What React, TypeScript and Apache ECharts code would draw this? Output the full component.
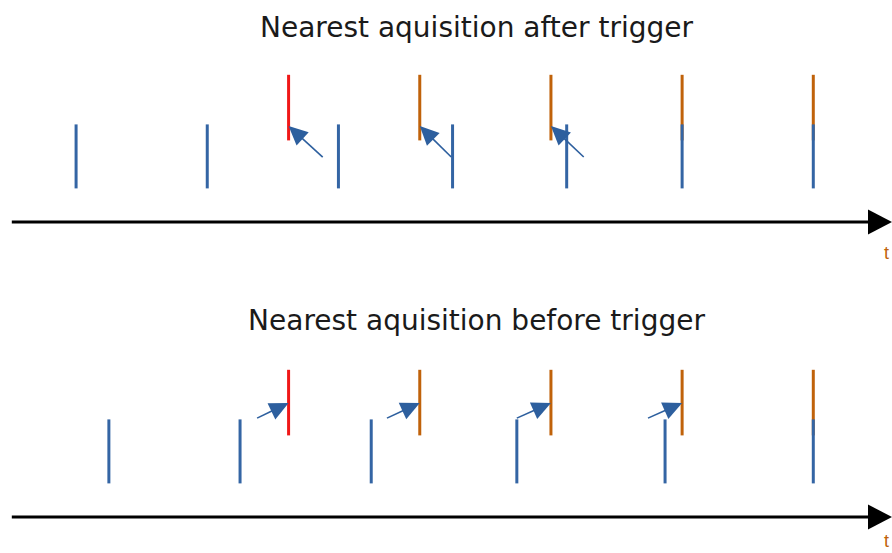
import React, { useEffect, useRef } from 'react';
import * as echarts from 'echarts';

// ---- data (time in trigger periods, height in arbitrary units above the time axis) ----
const TITLES = ['Nearest aquisition after trigger', 'Nearest aquisition before trigger'];
const TIME_AXIS_LABEL = 't';
const TRIGGER_TIMES = [0, 1, 2, 3, 4];
const AFTER_ACQUISITIONS = [-1.62, -0.62, 0.38, 1.25, 2.12, 3.0, 4.0];
const BEFORE_ACQUISITIONS = [-1.37, -0.37, 0.63, 1.74, 2.87, 4.0];
const AFTER_ARROW_TAILS = [0.26, 1.24, 2.25];
const AFTER_ARROW_TARGETS = [0, 1, 2];
const BEFORE_ARROW_TAILS = [-0.24, 0.75, 1.74, 2.74];
const BEFORE_ARROW_TARGETS = [0, 1, 2, 3];
const ACQ_SPAN = [1.05, 3.05];
const TRIGGER_SPAN = [2.55, 4.6];
const AFTER_ARROW_HEIGHTS = [2.03, 3.0];
const BEFORE_ARROW_HEIGHTS = [3.09, 3.56];
const TIME_RANGE = [-2.11, 4.6];

const BLUE = '#3465a4';
const ARROW_BLUE = '#2d5f9e';
const RED = '#f01818';
const ORANGE = '#c0620a';

function vertical(color: (i: number) => string) {
  return (params: any, api: any) => {
    const x = api.value(0);
    const p1 = api.coord([x, api.value(1)]);
    const p2 = api.coord([x, api.value(2)]);
    return {
      type: 'line',
      shape: { x1: p1[0], y1: p1[1], x2: p2[0], y2: p2[1] },
      style: { stroke: color(params.dataIndex), lineWidth: 3 },
    };
  };
}

function arrow(headLen: number, halfW: number, shaftW: number, color: string) {
  return (params: any, api: any) => {
    const p1 = api.coord([api.value(0), api.value(1)]);
    const p2 = api.coord([api.value(2), api.value(3)]);
    const dx = p2[0] - p1[0];
    const dy = p2[1] - p1[1];
    const len = Math.hypot(dx, dy) || 1;
    const ux = dx / len;
    const uy = dy / len;
    const bx = p2[0] - ux * headLen;
    const by = p2[1] - uy * headLen;
    return {
      type: 'group',
      children: [
        {
          type: 'line',
          shape: { x1: p1[0], y1: p1[1], x2: bx + ux, y2: by + uy },
          style: { stroke: color, lineWidth: shaftW },
        },
        {
          type: 'polygon',
          shape: {
            points: [
              [p2[0], p2[1]],
              [bx - uy * halfW, by + ux * halfW],
              [bx + uy * halfW, by - ux * halfW],
            ],
          },
          style: { fill: color },
        },
      ],
    };
  };
}

function panelSeries(k: number, acquisitions: number[], tails: number[], targets: number[], heights: number[]) {
  const common = { type: 'custom', xAxisIndex: k, yAxisIndex: k, silent: true };
  return [
    {
      ...common,
      name: 'trigger',
      data: TRIGGER_TIMES.map((t) => [t, TRIGGER_SPAN[0], TRIGGER_SPAN[1]]),
      renderItem: vertical((i) => (i === 0 ? RED : ORANGE)),
    },
    {
      ...common,
      name: 'acquisition',
      data: acquisitions.map((t) => [t, ACQ_SPAN[0], ACQ_SPAN[1]]),
      renderItem: vertical(() => BLUE),
    },
    {
      ...common,
      name: 'nearest',
      data: tails.map((t, i) => [t, heights[0], TRIGGER_TIMES[targets[i]], heights[1]]),
      renderItem: arrow(19, 9, 1.6, ARROW_BLUE),
    },
    {
      ...common,
      name: 'time axis',
      data: [[TIME_RANGE[0], 0, TIME_RANGE[1], 0]],
      renderItem: arrow(24, 12.5, 3, '#000000'),
    },
  ];
}

export default function App() {
  const ref = useRef<HTMLDivElement>(null);
  useEffect(() => {
    if (!ref.current) return;
    const chart = echarts.init(ref.current, undefined, { renderer: 'svg' });
    const grids = [
      { left: 0, right: 0, top: 62, height: 160 },
      { left: 0, right: 0, top: 357, height: 160 },
    ];
    const xAxis = [0, 1].map((k) => ({
      type: 'value',
      gridIndex: k,
      min: -2.2,
      max: 4.6,
      show: false,
    }));
    const yAxis = [0, 1].map((k) => ({
      type: 'value',
      gridIndex: k,
      min: 0,
      max: 5,
      show: false,
    }));
    const titleStyle = {
      fill: '#1a1a1a',
      font: '28px "DejaVu Sans", sans-serif',
      textAlign: 'center',
      textVerticalAlign: 'top',
    };
    const labelStyle = {
      fill: ORANGE,
      font: '18px "Liberation Sans", Arial, sans-serif',
      textVerticalAlign: 'top',
    };
    chart.setOption({
      animation: false,
      backgroundColor: '#ffffff',
      grid: grids,
      xAxis,
      yAxis,
      graphic: [
        { type: 'text', x: 476.5, y: 13, style: { ...titleStyle, text: TITLES[0] } },
        { type: 'text', x: 476.5, y: 306, style: { ...titleStyle, text: TITLES[1] } },
        { type: 'text', x: 884, y: 244, style: { ...labelStyle, text: TIME_AXIS_LABEL } },
        { type: 'text', x: 884, y: 532, style: { ...labelStyle, text: TIME_AXIS_LABEL } },
      ],
      series: [
        ...panelSeries(0, AFTER_ACQUISITIONS, AFTER_ARROW_TAILS, AFTER_ARROW_TARGETS, AFTER_ARROW_HEIGHTS),
        ...panelSeries(1, BEFORE_ACQUISITIONS, BEFORE_ARROW_TAILS, BEFORE_ARROW_TARGETS, BEFORE_ARROW_HEIGHTS),
      ],
    });
    return () => chart.dispose();
  }, []);
  return (
    <div
      ref={ref}
      style={{ position: 'fixed', left: 0, top: 0, width: 892, height: 553 }}
    />
  );
}
